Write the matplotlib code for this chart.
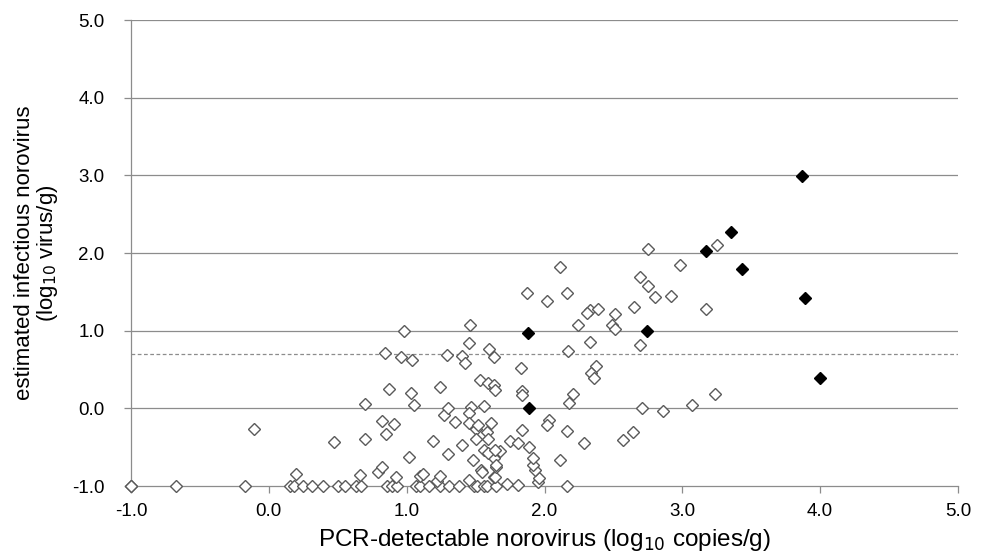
import numpy as np
import matplotlib.pyplot as plt

plt.rcParams['font.family'] = ['Liberation Sans', 'DejaVu Sans']

# hollow diamonds: estimated (x, y) in log10 units
open_x = [-1.0, -1.0, -0.67, -0.17, 0.15, 0.18, 0.25, 0.31, 0.39, 0.50, 0.55, 0.63, 0.67,
          0.86, 0.89, 0.93, 1.07, 1.10, 1.16, 1.24, 1.31, 1.38, 1.49, 1.51, 1.56, 1.58,
          1.65, 1.73, 1.81, 2.16, 1.95,
          0.20, 0.66, 0.79, 0.82, 0.92, 1.10, 1.12, 1.22, 1.24, 1.45, 1.54, 1.63, 1.64,
          1.65, 1.96, 1.93, 1.92, 1.92, 1.48, 1.63, 1.02, 1.30, 1.56, 1.59, 1.68, 2.11,
          1.55, 1.65, 1.64,
          -0.11, 0.475, 0.70, 0.70, 0.82, 0.91, 0.85, 1.19, 1.40, 1.27, 1.35, 1.30, 1.05,
          0.87, 1.03, 1.24, 1.47, 1.45, 1.56, 1.45, 1.50, 1.61, 1.58, 1.50, 1.59, 1.52,
          1.53, 1.59, 1.63, 1.64, 1.40, 1.42, 1.60, 1.63, 0.84, 0.96, 1.04, 1.29, 0.98,
          1.46, 1.45,
          1.84, 1.84, 2.21, 2.18, 2.71, 2.03, 2.02, 1.84, 2.16, 2.29, 1.75, 1.81, 1.89,
          2.57, 2.64, 1.83, 2.37, 2.34, 2.36, 2.17, 2.33, 2.69, 2.24, 2.49, 2.51, 2.33,
          2.31, 2.39, 2.51, 2.65, 2.69, 2.75, 2.80, 2.92, 1.87, 2.16, 2.02, 2.11, 2.75,
          2.98, 3.25, 3.17, 3.24, 2.86, 3.07]
open_y = [-1.0, -1.0, -1.0, -1.0, -1.0, -1.0, -1.0, -1.0, -1.0, -1.0, -1.0, -1.0, -1.0,
          -1.0, -1.0, -1.0, -1.0, -1.0, -1.0, -1.0, -1.0, -1.0, -1.0, -1.0, -1.0, -1.0,
          -1.0, -0.97, -0.99, -1.0, -0.95,
          -0.85, -0.86, -0.82, -0.75, -0.88, -0.87, -0.85, -0.94, -0.87, -0.92, -0.79, -0.88, -0.88,
          -0.75, -0.90, -0.79, -0.73, -0.64, -0.66, -0.64, -0.63, -0.59, -0.54, -0.58, -0.55, -0.66,
          -0.82, -0.73, -0.54,
          -0.27, -0.43, -0.40, 0.05, -0.16, -0.20, -0.33, -0.42, -0.47, -0.09, -0.17, 0.01, 0.04,
          0.25, 0.20, 0.28, 0.02, -0.06, 0.03, -0.19, -0.26, -0.19, -0.30, -0.39, -0.39, -0.21,
          0.37, 0.33, 0.30, 0.24, 0.68, 0.59, 0.77, 0.66, 0.71, 0.66, 0.62, 0.69, 0.99,
          1.07, 0.84,
          0.22, 0.17, 0.19, 0.07, 0.0, -0.15, -0.21, -0.28, -0.29, -0.44, -0.42, -0.45, -0.50,
          -0.41, -0.31, 0.52, 0.55, 0.46, 0.39, 0.74, 0.86, 0.82, 1.07, 1.07, 1.02, 1.27,
          1.23, 1.28, 1.22, 1.30, 1.69, 1.58, 1.43, 1.45, 1.48, 1.48, 1.38, 1.82, 2.05,
          1.85, 2.11, 1.28, 0.19, -0.03, 0.04]

# filled diamonds
solid_x = [1.88, 1.89, 2.74, 3.17, 3.35, 3.43, 3.87, 3.89, 4.00]
solid_y = [0.97, 0.01, 0.99, 2.02, 2.27, 1.80, 2.99, 1.42, 0.39]

threshold = 0.7
xticks = [-1.0, 0.0, 1.0, 2.0, 3.0, 4.0, 5.0]
yticks = [-1.0, 0.0, 1.0, 2.0, 3.0, 4.0, 5.0]

fig = plt.figure(figsize=(9.85, 5.58), dpi=100)
ax = fig.add_axes([0.133, 0.129, 0.8396, 0.835])

ax.set_xlim(-1.0, 5.0)
ax.set_ylim(-1.0, 5.0)
for yv in yticks[1:]:
    ax.axhline(yv, color='#8c8c8c', lw=0.9, zorder=1)
ax.axhline(threshold, color='#8c8c8c', lw=0.9, ls=(0, (3, 2)), zorder=1)

ax.plot(open_x, open_y, 'D', ms=6.6, mfc='white', mec='#5a5a5a', mew=1.0,
        ls='none', zorder=3, clip_on=False)
ax.plot(solid_x, solid_y, 'D', ms=6.6, mfc='black', mec='black', mew=1.0,
        ls='none', zorder=4, clip_on=False)

ax.set_xticks(xticks)
ax.set_yticks(yticks)
ax.set_xticklabels(['%.1f' % v for v in xticks])
ax.set_yticklabels(['%.1f' % v for v in yticks])
ax.tick_params(axis='both', labelsize=13.5, colors='#8c8c8c', labelcolor='black',
               length=5, width=0.9, direction='out')
ax.tick_params(axis='x', pad=7)
ax.tick_params(axis='y', pad=14)

for s in ['top', 'right']:
    ax.spines[s].set_visible(False)
for s in ['left', 'bottom']:
    ax.spines[s].set_color('#8c8c8c')
    ax.spines[s].set_linewidth(0.9)

ax.set_xlabel('PCR-detectable norovirus (log$_{10}$ copies/g)', fontsize=17.5, labelpad=5)
ax.set_ylabel('estimated infectious norovirus\n(log$_{10}$ virus/g)', fontsize=16,
              labelpad=9, linespacing=1.0)

fig.savefig('out.png', dpi=100)
